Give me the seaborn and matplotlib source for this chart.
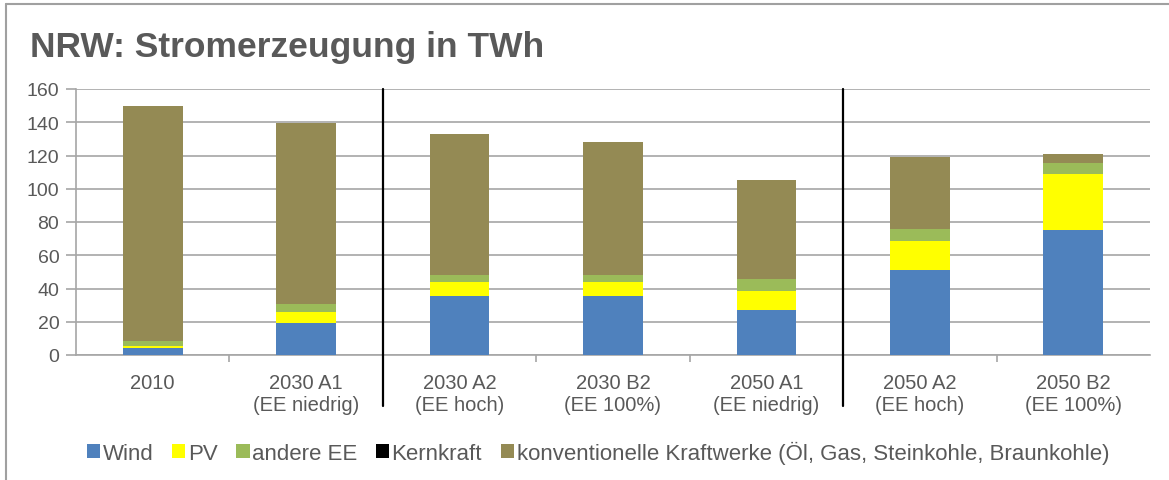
import matplotlib
matplotlib.use("Agg")
import matplotlib.pyplot as plt
import numpy as np
import pandas as pd
import seaborn as sns
from matplotlib.lines import Line2D
from matplotlib.patches import Patch

categories = ["2010", "2030 A1\n(EE niedrig)", "2030 A2\n(EE hoch)", "2030 B2\n(EE 100%)",
              "2050 A1\n(EE niedrig)", "2050 A2\n(EE hoch)", "2050 B2\n(EE 100%)"]
wind = [4.2, 19.4, 35.2, 35.2, 27.2, 51.0, 75.0]
pv = [1.2, 6.4, 8.8, 8.8, 11.4, 17.8, 34.0]
andere_ee = [3.0, 4.8, 4.2, 4.2, 7.0, 7.2, 6.6]
kernkraft = [0, 0, 0, 0, 0, 0, 0]
konventionell = [141.6, 109.1, 84.6, 79.8, 59.4, 43.2, 5.4]

series_names = ["Wind", "PV", "andere EE", "Kernkraft",
                "konventionelle Kraftwerke (Öl, Gas, Steinkohle, Braunkohle)"]
colors = ["#4F81BD", "#FFFF00", "#9BBB59", "#000000", "#948A54"]

text_col = "#595959"
grid_col = "#A6A6A6"

df = pd.DataFrame({"Kategorie": categories, "Wind": wind, "PV": pv,
                   "andere EE": andere_ee, "Kernkraft": kernkraft,
                   "konv": konventionell})
stack_cols = ["Wind", "PV", "andere EE", "Kernkraft", "konv"]
cum = df[stack_cols].cumsum(axis=1)

sns.set_theme(style="white")
plt.rcParams["font.family"] = ["Liberation Sans", "DejaVu Sans"]

fig = plt.figure(figsize=(11.69, 4.81), dpi=100)
ax = fig.add_axes([76 / 1169, 1 - 356 / 481, (1150 - 76) / 1169, 266 / 481])

# stacked bars: draw cumulative totals from the top down
for col, color in zip(reversed(stack_cols), reversed(colors)):
    sns.barplot(x=df["Kategorie"], y=cum[col], color=color, saturation=1,
                width=0.39, linewidth=0, ax=ax, zorder=3)

ax.set_ylim(0, 160)
ax.set_xlim(-0.5, 6.5)
ax.set_yticks(np.arange(0, 161, 20))
ax.set_xlabel("")
ax.set_ylabel("")
ax.yaxis.grid(True, color=grid_col, linewidth=1.2, zorder=0)
ax.set_axisbelow(True)

for side in ["top", "right"]:
    ax.spines[side].set_visible(False)
for side in ["left", "bottom"]:
    ax.spines[side].set_color(grid_col)
    ax.spines[side].set_linewidth(1.2)

ax.tick_params(axis="y", which="major", length=7, width=1.2, color=grid_col,
               labelsize=14, labelcolor=text_col, pad=5, left=True)
ax.tick_params(axis="x", which="major", length=0, labelsize=14.5,
               labelcolor=text_col, pad=13)
ax.set_xticks(np.arange(0.5, 6.5, 1), minor=True)
ax.tick_params(axis="x", which="minor", length=5, width=1.2, color=grid_col,
               bottom=True, direction="out")
ax.xaxis.set_tick_params(which="minor", labelbottom=False)
for lab in ax.get_xticklabels():
    lab.set_linespacing(1.2)

# scenario separators
for xs in [1.5, 4.5]:
    ax.axvline(xs, ymin=-0.19, ymax=1, color="black", linewidth=1.6,
               clip_on=False, zorder=4)

fig.text(30 / 1169, 1 - 57 / 481, "NRW: Stromerzeugung in TWh", fontsize=25.5,
         fontweight="bold", color=text_col, va="baseline", ha="left")

handles = [Patch(facecolor=c, edgecolor="none") for c in colors]
fig.legend(handles, series_names, loc="center", ncol=5,
           bbox_to_anchor=(598 / 1169, 1 - 453 / 481), frameon=False,
           fontsize=16, labelcolor=text_col, handlelength=0.6,
           handleheight=0.6, handletextpad=0.1, columnspacing=0.85)

# outer chart border (left and top edges visible)
fig.add_artist(Line2D([6 / 1169, 6 / 1169], [0, 1 - 5 / 481],
                      transform=fig.transFigure, color="#A0A0A0", linewidth=1.5))
fig.add_artist(Line2D([6 / 1169, 1], [1 - 5 / 481, 1 - 5 / 481],
                      transform=fig.transFigure, color="#A0A0A0", linewidth=1.5))

fig.savefig("out.png", dpi=100)
